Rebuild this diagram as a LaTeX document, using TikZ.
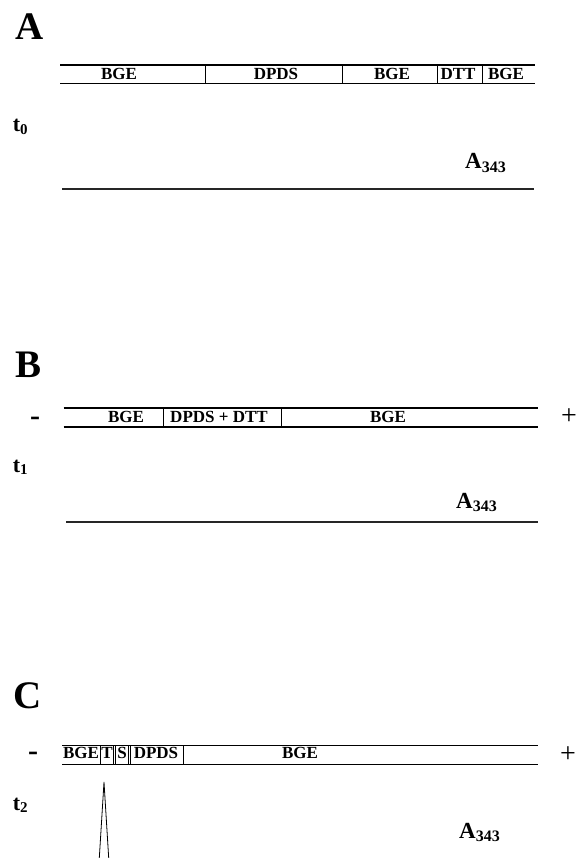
\documentclass[tikz,border=0pt]{standalone}
\usepackage{fontspec}
\setmainfont{Liberation Serif}
% absorbance label and time labels
\newcommand{\abslabel}{A\raisebox{-3.6pt}{\fontsize{16}{16}\selectfont 343}}
\newcommand{\tlab}[1]{t\raisebox{-2.6pt}{\fontsize{15}{15}\selectfont #1}}
\begin{document}
\begin{tikzpicture}[x=1pt,y=-1pt]
\useasboundingbox (0,0) rectangle (576,858);
\tikzset{
  panel/.style={font=\fontsize{39}{39}\selectfont\bfseries, anchor=base west, inner sep=0pt},
  rail/.style={line width=1.9pt},
  sep/.style={line width=0.9pt},
  seg/.style={font=\fontsize{17}{17}\selectfont\bfseries, inner sep=0pt},
  segc/.style={font=\fontsize{17}{17}\selectfont\bfseries, inner sep=0pt},
  baseln/.style={line width=1.2pt, black!85},
  tlabel/.style={font=\fontsize{22}{22}\selectfont\bfseries, anchor=base west, inner sep=0pt},
  abs/.style={font=\fontsize{23}{23}\selectfont\bfseries, anchor=base west, inner sep=0pt},
  minus/.style={font=\fontsize{30}{30}\selectfont\bfseries, anchor=base, inner sep=0pt},
  plus/.style={font=\fontsize{28}{28}\selectfont, anchor=base, inner sep=0pt},
  peak/.style={line width=0.8pt}
}

% ---------------- panel A ----------------
\node[panel] (labA) at (15,40) {A};
\coordinate (aTL) at (60,65);   \coordinate (aTR) at (535,65);
\coordinate (aBL) at (60,83.5); \coordinate (aBR) at (535,83.5);
\draw[rail] (aTL) -- (aTR);
\draw[rail] (aBL) -- (aBR);
\foreach \x in {205,342,437,482} \draw[sep] (\x,65) -- (\x,83.5);
\node[seg] (a1) at (119,74) {BGE};
\node[seg] (a2) at (276,74) {DPDS};
\node[seg] (a3) at (392,74) {BGE};
\node[seg] (a4) at (458,74) {DTT};
\node[seg] (a5) at (506,74) {BGE};
\node[tlabel] (tA) at (12.7,131.7) {\tlab{0}};
\node[abs] (absA) at (465,169) {\abslabel};
\coordinate (lA1) at (62,189); \coordinate (lA2) at (534,189);
\draw[baseln] (lA1) -- (lA2);

% ---------------- panel B ----------------
\node[panel] (labB) at (15,377) {B};
\node[minus] (mB) at (35,425) {-};
\node[plus] (pB) at (569,424) {+};
\coordinate (bTL) at (63.5,408);   \coordinate (bTR) at (538,408);
\coordinate (bBL) at (63.5,427);   \coordinate (bBR) at (538,427);
\draw[rail] (bTL) -- (bTR);
\draw[rail] (bBL) -- (bBR);
\foreach \x in {163.5,281} \draw[sep] (\x,408) -- (\x,427);
\node[seg] (b1) at (126,416.5) {BGE};
\node[seg] (b2) at (219,416.5) {DPDS + DTT};
\node[seg] (b3) at (388,416.5) {BGE};
\node[tlabel] (tB) at (12.7,472) {\tlab{1}};
\node[abs] (absB) at (456,508) {\abslabel};
\coordinate (lB1) at (66,522); \coordinate (lB2) at (538,522);
\draw[baseln] (lB1) -- (lB2);

% ---------------- panel C ----------------
\node[panel] (labC) at (13,708) {C};
\node[minus] (mC) at (33,760) {-};
\node[plus] (pC) at (568,762) {+};
\coordinate (cTL) at (62,745.5);   \coordinate (cTR) at (538,745.5);
\coordinate (cBL) at (62,764.5);   \coordinate (cBR) at (538,764.5);
\draw[rail] (cTL) -- (cTR);
\draw[rail] (cBL) -- (cBR);
\foreach \x in {100.7,113.3,115.5,128.7,130.9,183.3} \draw[sep] (\x,745.5) -- (\x,764.5);
\node[segc] (c1) at (81,753) {BGE};
\node[segc] (c2) at (107,753) {T};
\node[segc] (c3) at (122,753) {S};
\node[segc] (c4) at (156,753) {DPDS};
\node[segc] (c5) at (300,753) {BGE};
\node[tlabel] (tC) at (12.7,810) {\tlab{2}};
\node[abs] (absC) at (459,838) {\abslabel};
% absorbance peak
\coordinate (pk) at (104,782);
\coordinate (pkL) at (99.3,858);
\coordinate (pkR) at (108.7,858);
\draw[peak] (pkL) -- (pk) -- (pkR);
\end{tikzpicture}
\end{document}
